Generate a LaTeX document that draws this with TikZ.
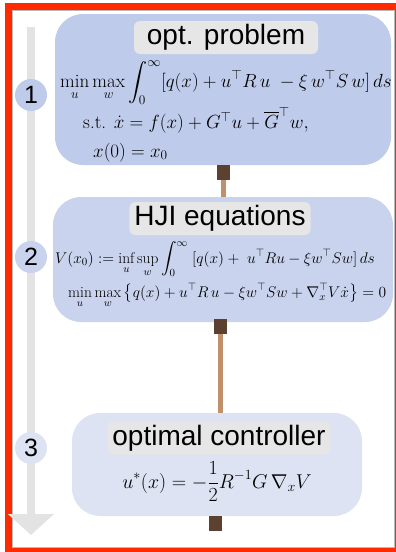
\RequirePackage{fix-cm}
\documentclass[tikz,border=0pt]{standalone}
\usepackage{amsmath,amssymb}
\usepackage{fontspec}
\newfontfamily\headfont{Liberation Sans}
\usetikzlibrary{arrows.meta}
\definecolor{framered}{HTML}{FF2A00}
\definecolor{stageA}{HTML}{BFCBEA}
\definecolor{stageB}{HTML}{C9D3EE}
\definecolor{stageC}{HTML}{DDE3F3}
\definecolor{headgray}{HTML}{E6E6E6}
\definecolor{linegray}{HTML}{E3E3E3}
\definecolor{plugbrown}{HTML}{5C4030}
\definecolor{stemtan}{HTML}{C0906C}
\tikzset{
  stagebox/.style = {rounded corners=28pt,inner sep=0pt},
  headbox/.style  = {fill=headgray,rounded corners=6pt,minimum height=33pt,inner xsep=5pt,
                     font=\headfont\fontsize{28}{30}\selectfont},
  stepnum/.style  = {circle,minimum size=32pt,inner sep=0pt,font=\headfont\fontsize{25}{25}\selectfont},
  plug/.style     = {fill=plugbrown,minimum width=13pt,minimum height=15pt,inner sep=0pt},
  stem/.style     = {stemtan,line width=5pt},
  eq/.style       = {inner sep=0pt,font=\fontsize{19}{22}\selectfont},
  eqsmall/.style  = {eq,font=\fontsize{15.5}{19}\selectfont},
  eqlarge/.style  = {eq,font=\fontsize{20}{24}\selectfont},
  timeline/.style = {-{Triangle[width=45pt,length=21pt]},linegray,line width=8pt}
}

\begin{document}
\begin{tikzpicture}[x=1pt,y=-1pt]
  \useasboundingbox (0,0) rectangle (396,552);
  % frame, the right side is cut by the page edge
  \draw[framered,line width=7pt] (8.5,6.5) rectangle (397.5,550.5);
  \draw[gray!55,thin] (12,10) rectangle (394,547);
  \draw[timeline] (31,27) -- (31,535);

  \node[stagebox,fill=stageA,minimum width=336pt,minimum height=151pt] (prob) at (223,89.5) {};
  \node[stagebox,fill=stageB,minimum width=340pt,minimum height=125pt] (hji)  at (223,259.5) {};
  \node[stagebox,fill=stageC,minimum width=290pt,minimum height=103pt] (ctrl) at (217,464.5) {};

  \node[stepnum,fill=stageA] (n1) at (31,95)  {1};
  \node[stepnum,fill=stageB] (n2) at (31,257) {2};
  \node[stepnum,fill=stageC] (n3) at (31,448) {3};

  \node[headbox,minimum width=184pt] (probhead) at (226,37.5) {opt. problem};
  \node[headbox] (hjihead)  at (220,218.5) {HJI equations};
  \node[headbox] (ctrlhead) at (219,438)   {optimal controller};

  \node[eq,anchor=base west] (probcost) at (60,87)
    {$\displaystyle\min_u\max_w\int_0^\infty [q(x)+u^\top R\,u\;-\xi\,w^\top S\,w]\,ds$};
  \node[eq,anchor=base west] (probdyn) at (83,128)
    {$\text{s.t. }\dot x = f(x)+G^\top u+\overline{G}^\top w,$};
  \node[eq,anchor=base west] (probinit) at (93,157) {$x(0)=x_0$};

  \node[eqsmall,anchor=base west] (hjival) at (55,263)
    {$\displaystyle V(x_0):=\inf_u\sup_w\int_0^\infty\;[q(x)+\;u^\top Ru-\xi w^\top Sw]\,ds$};
  \node[eqsmall,anchor=base west] (hjipde) at (68,297)
    {$\displaystyle\min_u\max_w\big\{q(x)+u^\top R\,u-\xi w^\top Sw+\nabla_x^\top V\dot x\big\}=0$};

  \node[eqlarge,anchor=base] (ctrllaw) at (217,488)
    {$\displaystyle u^*(x)=-\frac{1}{2}R^{-1}G\,\nabla_x V$};

  % plugs under each stage and the stems that join them
  \node[plug] (p1) at (223.5,172) {};
  \node[plug] (p2) at (220,326)   {};
  \node[plug] (p3) at (215.5,523) {};
  \draw[stem] (p1) -- (p1 |- hji.north);
  \draw[stem] (p2) -- (p2 |- ctrl.north);
\end{tikzpicture}
\end{document}
